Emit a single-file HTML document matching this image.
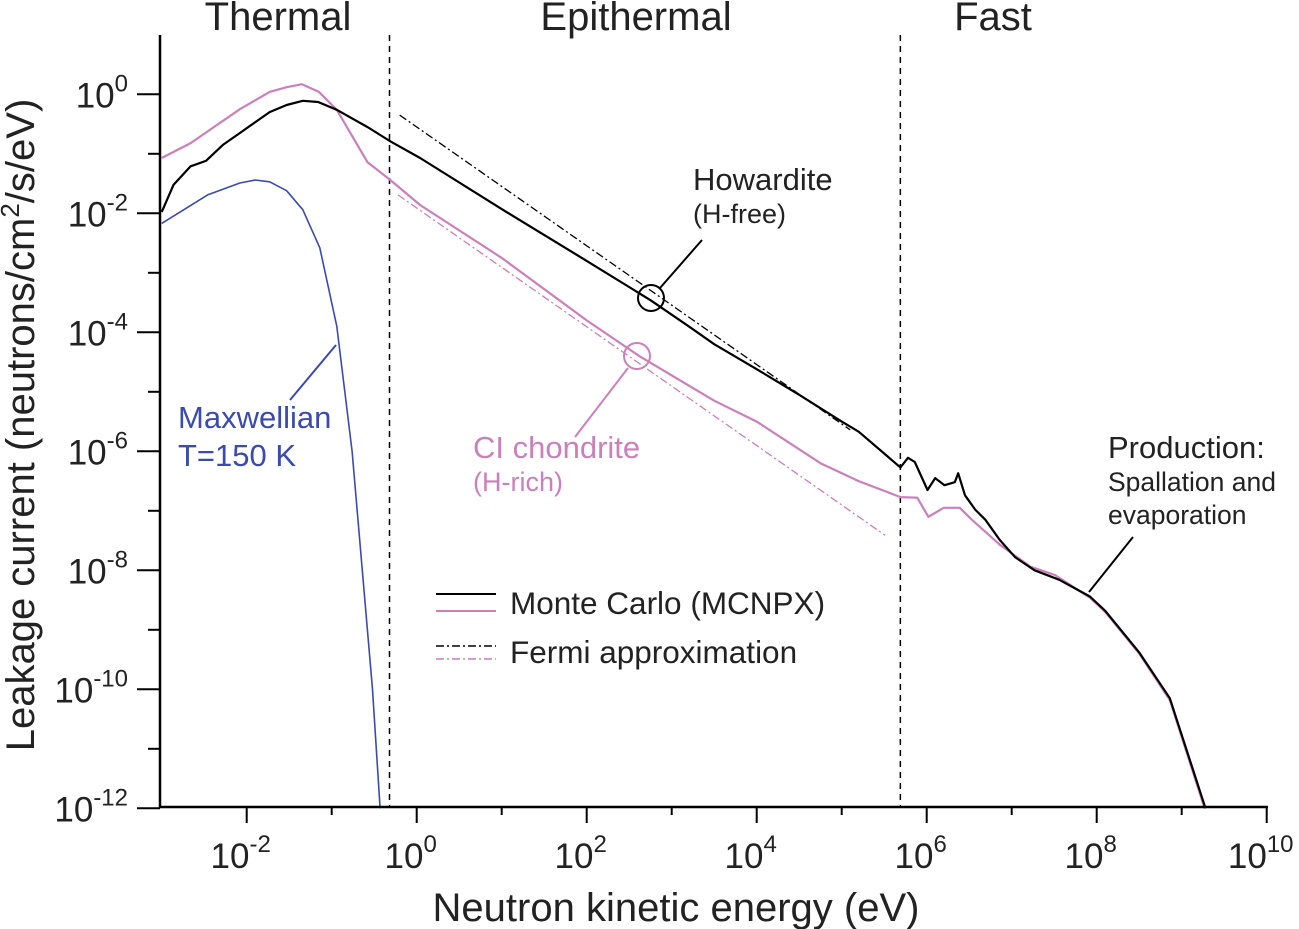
<!DOCTYPE html>
<html><head><meta charset="utf-8"><style>
body{margin:0;background:#fff;}
svg{display:block;font-family:"Liberation Sans",Arial,sans-serif;}
</style></head><body>
<svg id="chart" width="1299" height="929" viewBox="0 0 1299 929" xmlns="http://www.w3.org/2000/svg">
<g id="marks"></g>
<g id="axes"></g>
<g>
<text x="278" y="30" font-size="40" text-anchor="middle" fill="#222">Thermal</text>
<text x="636" y="30" font-size="40" text-anchor="middle" fill="#222">Epithermal</text>
<text x="993" y="30" font-size="40" text-anchor="middle" fill="#222">Fast</text>
<text x="693" y="190" font-size="31" fill="#222">Howardite</text>
<text x="693" y="223" font-size="27" fill="#222">(H-free)</text>
<circle cx="651" cy="298" r="13" fill="none" stroke="#000" stroke-width="2"/>
<line x1="660" y1="288" x2="702" y2="240" stroke="#000" stroke-width="2"/>
<circle cx="637" cy="356" r="13" fill="none" stroke="#cc7fbb" stroke-width="2"/>
<line x1="628" y1="368" x2="575" y2="437" stroke="#cc7fbb" stroke-width="2"/>
<text x="473" y="458" font-size="31" fill="#cc7fbb">CI chondrite</text>
<text x="473" y="491" font-size="27" fill="#cc7fbb">(H-rich)</text>
<text x="178" y="428" font-size="31" fill="#3a4ab0">Maxwellian</text>
<text x="178" y="466" font-size="31" fill="#3a4ab0">T=150 K</text>
<line x1="290" y1="400" x2="336" y2="345" stroke="#3a4ab0" stroke-width="2"/>
<text x="1108" y="458" font-size="31" fill="#222">Production:</text>
<text x="1108" y="491" font-size="26.5" fill="#222">Spallation and</text>
<text x="1108" y="524" font-size="26.5" fill="#222">evaporation</text>
<line x1="1133" y1="537" x2="1089" y2="592" stroke="#000" stroke-width="2"/>
</g>
<g>
<line x1="436" y1="594" x2="496" y2="594" stroke="#000" stroke-width="2"/>
<line x1="436" y1="611" x2="496" y2="611" stroke="#cc7fbb" stroke-width="2"/>
<text x="510" y="614" font-size="31.5" fill="#222">Monte Carlo (MCNPX)</text>
<line x1="436" y1="646" x2="496" y2="646" stroke="#000" stroke-width="1.5" stroke-dasharray="8,3,2,3"/>
<line x1="436" y1="659" x2="496" y2="659" stroke="#cc7fbb" stroke-width="1.5" stroke-dasharray="8,3,2,3"/>
<text x="510" y="663" font-size="31.5" fill="#222">Fermi approximation</text>
</g>
<text x="676" y="921" font-size="40" text-anchor="middle" fill="#222">Neutron kinetic energy (eV)</text>
<text transform="translate(34,425) rotate(-90)" font-size="40" text-anchor="middle" fill="#222">Leakage current (neutrons/cm<tspan font-size="26" dy="-15">2</tspan><tspan dy="15">/s/eV)</tspan></text>
</svg>
<script>
// log10(E) and log10(flux) pairs
const howarditeLogE=[-3,-2.86,-2.66,-2.48,-2.28,-2.08,-1.73,-1.53,-1.34,-1.16,-0.94,-0.58,-0.31,0.04,1,2,2.75,3.2,3.5,4.0,4.5,5.0,5.2,5.69,5.78,5.86,6.01,6.1,6.21,6.33,6.37,6.45,6.57,6.69,6.86,7.04,7.27,7.56,7.92,8.1,8.5,8.86,9.28];
const howarditeLogY=[-1.98,-1.52,-1.21,-1.12,-0.85,-0.65,-0.30,-0.18,-0.11,-0.13,-0.26,-0.55,-0.79,-1.07,-1.93,-2.8,-3.46,-3.9,-4.2,-4.62,-5.05,-5.5,-5.67,-6.27,-6.11,-6.18,-6.65,-6.45,-6.57,-6.52,-6.37,-6.74,-6.98,-7.15,-7.49,-7.78,-8.0,-8.16,-8.44,-8.68,-9.38,-10.15,-12];
const ciLogE=[-3,-2.66,-2.08,-1.73,-1.53,-1.35,-1.15,-0.94,-0.58,-0.31,0.04,1,2,2.63,3.5,4,4.75,5.2,5.69,5.89,6.02,6.2,6.39,6.53,6.86,7.22,7.51,7.92,8.1,8.5,8.86,9.27];
const ciLogY=[-1.07,-0.82,-0.25,0.04,0.12,0.17,0.04,-0.26,-1.14,-1.44,-1.86,-2.75,-3.8,-4.41,-5.15,-5.5,-6.2,-6.5,-6.77,-6.78,-7.1,-6.95,-6.95,-7.15,-7.57,-7.94,-8.08,-8.46,-8.7,-9.4,-10.18,-12];
const maxwellLogE=[-3,-2.46,-2.08,-1.9,-1.73,-1.53,-1.34,-1.14,-0.94,-0.76,-0.64,-0.52,-0.43];
const maxwellLogY=[-2.17,-1.69,-1.49,-1.44,-1.47,-1.62,-1.94,-2.58,-3.9,-6,-8,-10,-12];
const fermiHowLogE=[-0.2,5.1];
const fermiHowLogY=[-0.35,-5.64];
const fermiCiLogE=[-0.22,5.51];
const fermiCiLogY=[-1.69,-7.41];
const regionBoundsLogE=[-0.32,5.69];
const xTickLabels=["-2","0","2","4","6","8","10"];
const yTickLabels=["0","-2","-4","-6","-8","-10","-12"];

const NS="http://www.w3.org/2000/svg";
const X0=416.7, DX=85, Y0=94.3, DY=59.5;
function sx(l){return X0+l*DX;}
function sy(l){return Y0-l*DY;}
const marks=document.getElementById('marks');
const axes=document.getElementById('axes');
function mk(tag,attrs,parent){const e=document.createElementNS(NS,tag);for(const k in attrs)e.setAttribute(k,attrs[k]);parent.appendChild(e);return e;}
function path(xs,ys,stroke,w,dash,name){
  let d='';for(let i=0;i<xs.length;i++)d+=(i?'L':'M')+sx(xs[i]).toFixed(1)+','+sy(ys[i]).toFixed(1);
  const p=mk('path',{d:d,fill:'none',stroke:stroke,'stroke-width':w,'stroke-linejoin':'round'},marks);
  if(dash)p.setAttribute('stroke-dasharray',dash);
  
  
}
regionBoundsLogE.forEach((l,i)=>{
  const ln=mk('line',{x1:sx(l),x2:sx(l),y1:35,y2:807,stroke:'#000','stroke-width':1.5,'stroke-dasharray':'6,5'},marks);
  
  
});
path(maxwellLogE,maxwellLogY,'#3a4ab0',1.6,null,'maxwellian-curve');
path(fermiHowLogE,fermiHowLogY,'#000',1.3,'8,3,2,3','fermi-howardite-line');
path(fermiCiLogE,fermiCiLogY,'#cc7fbb',1.3,'8,3,2,3','fermi-ci-line');
path(ciLogE,ciLogY,'#cc7fbb',2.2,null,'ci-chondrite-curve');
path(howarditeLogE,howarditeLogY,'#000',2.2,null,'howardite-curve');

const ya=mk('line',{x1:160,x2:160,y1:35,y2:808,stroke:'#000','stroke-width':2.5},axes);


const xa=mk('line',{x1:159,x2:1268,y1:807,y2:807,stroke:'#000','stroke-width':2.5},axes);


for(let d=-2;d<=10;d++){
  const major=(d%2===0);
  const t=mk('line',{x1:sx(d),x2:sx(d),y1:807,y2:major?823:815,stroke:'#000','stroke-width':2},axes);
  
  
}
xTickLabels.forEach(s=>{
  const l=+s;
  const tx=mk('text',{x:sx(l)-6,y:868,'font-size':35,'text-anchor':'middle',fill:'#222'},axes);
  tx.innerHTML='10<tspan font-size="24" dy="-16">'+s+'</tspan>';
  
  
});
for(let d=0;d>=-12;d--){
  const major=(d%2===0);
  const t=mk('line',{x1:major?137:148,x2:160,y1:sy(d),y2:sy(d),stroke:'#000','stroke-width':2},axes);
  
  
}
yTickLabels.forEach(s=>{
  const l=+s;
  const tx=mk('text',{x:128,y:sy(l)+13,'font-size':35,'text-anchor':'end',fill:'#222'},axes);
  tx.innerHTML='10<tspan font-size="24" dy="-16">'+s+'</tspan>';
  
  
});
</script>
</body></html>
